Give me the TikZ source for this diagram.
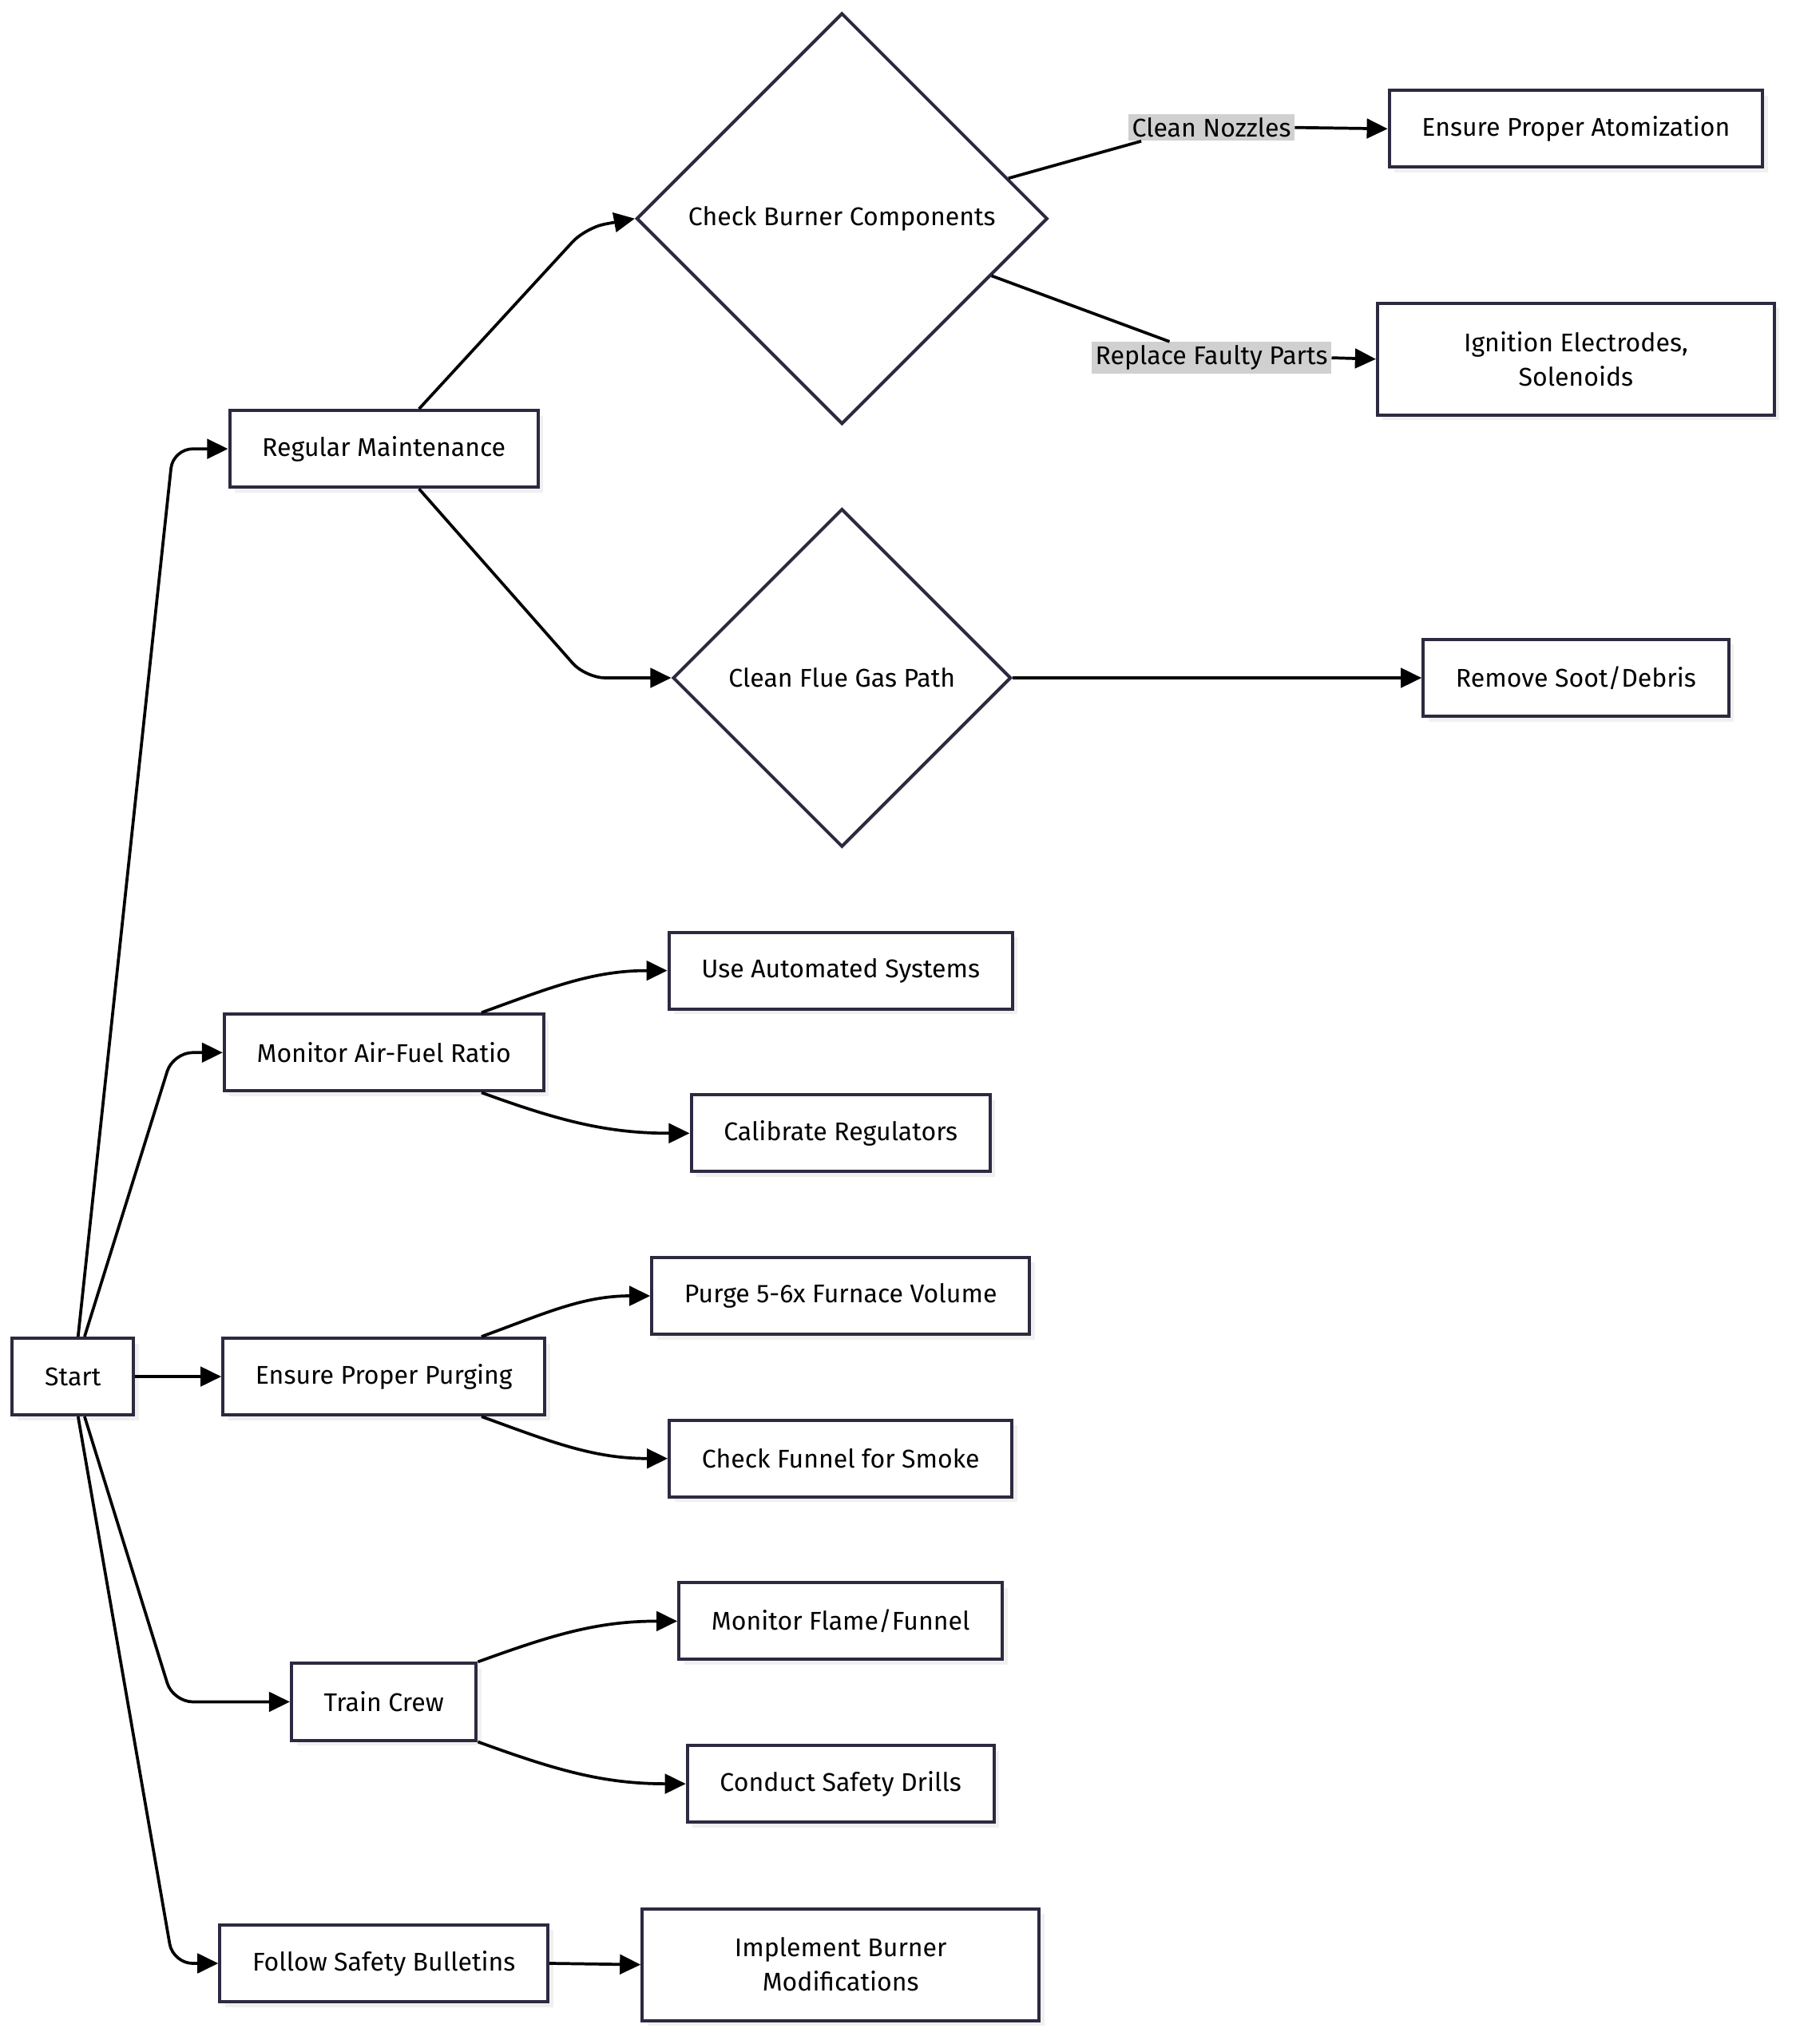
\documentclass[tikz,border=0pt]{standalone}
\usepackage{fontspec}
\setmainfont{Fira Sans}
\usetikzlibrary{shapes.geometric,arrows.meta,shadows}
\definecolor{edgeink}{HTML}{2B2A40}
\definecolor{labelbg}{HTML}{D0D0D0}
\tikzset{
	box/.style={rectangle,draw=edgeink,line width=1.4pt,fill=white,align=center,
		minimum height=1.18cm,inner xsep=0.5cm,font=\fontsize{11.2}{15}\selectfont,
		drop shadow={opacity=0.12,shadow xshift=0.08cm,shadow yshift=-0.08cm}},
	decision/.style={diamond,draw=edgeink,line width=1.4pt,fill=white,aspect=1,
		inner sep=0pt,font=\fontsize{11.2}{15}\selectfont},
	tag/.style={fill=labelbg,inner sep=1.5pt,font=\fontsize{11.2}{15}\selectfont},
	link/.style={line width=1.3pt,black,-{Triangle[length=0.32cm,width=0.3cm]},rounded corners=0.3cm}
}
\begin{document}
\begin{tikzpicture}[x=0.02cm,y=-0.02cm]
	\useasboundingbox (0,0) rectangle (1380,1571);
	% left column
	\node [box] (start) at (56,1058) {Start};
	\node [box] (maint) at (295,345) {Regular Maintenance};
	\node [box] (ratio) at (295,809) {Monitor Air-Fuel Ratio};
	\node [box] (purging) at (295,1058) {Ensure Proper Purging};
	\node [box] (crew) at (295,1308) {Train Crew};
	\node [box] (bulletins) at (295,1509) {Follow Safety Bulletins};
	% middle column
	\node [decision,minimum size=6.32cm] (burner) at (647,168) {Check Burner Components};
	\node [decision,minimum size=5.2cm] (flue) at (647,521) {Clean Flue Gas Path};
	\node [box] (auto) at (646,746) {Use Automated Systems};
	\node [box] (calib) at (646,871) {Calibrate Regulators};
	\node [box] (purge) at (646,996) {Purge 5-6x Furnace Volume};
	\node [box] (funnel) at (646,1121) {Check Funnel for Smoke};
	\node [box] (flame) at (646,1246) {Monitor Flame/Funnel};
	\node [box] (drills) at (646,1371) {Conduct Safety Drills};
	\node [box,minimum height=1.72cm,minimum width=6.1cm] (modif) at (646,1510) {Implement Burner\\Modifications};
	% right column
	\node [box] (atom) at (1211,99) {Ensure Proper Atomization};
	\node [box,minimum height=1.72cm,minimum width=6.1cm] (ignite) at (1211,276) {Ignition Electrodes,\\Solenoids};
	\node [box] (soot) at (1211,521) {Remove Soot/Debris};
	% edge labels
	\node [tag] (nozzles) at (931,98) {Clean Nozzles};
	\node [tag] (faulty) at (931,275) {Replace Faulty Parts};
	\coordinate (burnerup) at ([shift={(128,-31)}]burner.center);
	\coordinate (burnerdown) at ([shift={(115,44)}]burner.center);

	% from start
	\draw [link] ([xshift=0.08cm]start.north) -- (133,345) -- (maint.west);
	\draw [link] ([xshift=0.18cm]start.north) -- (133,809) -- (ratio.west);
	\draw [link] (start.east) -- (purging.west);
	\draw [link] ([xshift=0.18cm]start.south) -- (133,1308) -- (crew.west);
	\draw [link] ([xshift=0.08cm]start.south) -- (133,1509) -- (bulletins.west);
	% maintenance
	\draw [link] ([xshift=0.54cm]maint.north) -- (450,175) -- (burner.west);
	\draw [link] ([xshift=0.54cm]maint.south) -- (450,521) -- (flue.west);
	\draw [line width=1.3pt] (burnerup) -- ([xshift=0.2cm]nozzles.south west);
	\draw [link] (nozzles.east) -- (atom.west);
	\draw [line width=1.3pt] (burnerdown) -- ([xshift=1.2cm]faulty.north west);
	\draw [link] (faulty.east) -- (ignite.west);
	\draw [link] (flue.east) -- (soot.west);
	% second level
	\draw [link] ([xshift=1.5cm]ratio.north) to[out=20,in=180] (auto.west);
	\draw [link] ([xshift=1.5cm]ratio.south) to[out=-20,in=180] (calib.west);
	\draw [link] ([xshift=1.5cm]purging.north) to[out=20,in=180] (purge.west);
	\draw [link] ([xshift=1.5cm]purging.south) to[out=-20,in=180] (funnel.west);
	\draw [link] (crew.north east) to[out=20,in=180] (flame.west);
	\draw [link] (crew.south east) to[out=-20,in=180] (drills.west);
	\draw [link] (bulletins.east) -- (modif.west);
\end{tikzpicture}
\end{document}
